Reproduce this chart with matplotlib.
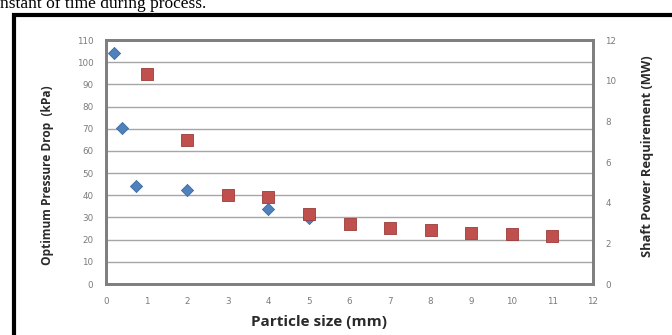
import numpy as np
import matplotlib.pyplot as plt
from matplotlib.patches import Rectangle

# pressure drop (left axis, kPa)
dp_size = [0.2, 0.4, 0.75, 2, 4, 5]
dp_kpa = [104, 70.5, 44, 42.3, 34, 29.6]

# shaft power (right axis, MW)
pw_size = [1, 2, 3, 4, 5, 6, 7, 8, 9, 10, 11]
pw_mw = [10.35, 7.1, 4.4, 4.3, 3.43, 2.94, 2.73, 2.64, 2.53, 2.45, 2.37]

W, H = 672, 335
fig = plt.figure(figsize=(W / 100, H / 100), dpi=100)

# leftover caption line at the top of the page
fig.text(0.0, 1 - 4 / H, 'nstant of time during process.', family='Liberation Serif',
         fontsize=12.5, va='center', ha='left', color='black')

# black frame around the chart
fig.patches.append(Rectangle((14 / W, -0.05), 1.0, 1 - 14.5 / H + 0.05,
                             transform=fig.transFigure, fill=False,
                             edgecolor='black', linewidth=3))

ax = fig.add_axes([106 / W, 1 - 284 / H, (593 - 106) / W, (284 - 40) / H])
ax2 = ax.twinx()

ax.set_xlim(0, 12)
ax.set_ylim(0, 110)
ax2.set_ylim(0, 12)
ax.set_xticks(np.arange(0, 13, 1))
ax.set_yticks(np.arange(0, 111, 10))
ax2.set_yticks(np.arange(0, 13, 2))

ax.yaxis.grid(True, color='#a6a6a6', linewidth=1.0)
ax.set_axisbelow(True)

for a in (ax, ax2):
    a.tick_params(length=0, labelsize=6.3, labelcolor='#7a7a7a', pad=9)
    for s in a.spines.values():
        s.set_color('#7f7f7f')
        s.set_linewidth(2)

ax.scatter(dp_size, dp_kpa, marker='D', s=38, color='#4f81bd',
           edgecolor='#3d6aa0', linewidth=0.6, zorder=3)
ax2.scatter(pw_size, pw_mw, marker='s', s=75, color='#c0504d',
            edgecolor='#9b3b39', linewidth=0.6, zorder=3)

fig.text(48 / W, 1 - 175 / H, 'Optimum Pressure Drop  (kPa)', rotation=90,
         family='Open Sans', fontweight='bold', fontsize=8.6, color='#2a2a2a',
         ha='center', va='center')
fig.text(648 / W, 1 - 156 / H, 'Shaft Power Requirement (MW)', rotation=90,
         family='Open Sans', fontweight='bold', fontsize=9.3, color='#2a2a2a',
         ha='center', va='center')
fig.text(319 / W, 1 - 322 / H, 'Particle size (mm)', family='Open Sans',
         fontweight='bold', fontsize=11, color='#2a2a2a', ha='center', va='center')

fig.savefig('out.png', dpi=100)
